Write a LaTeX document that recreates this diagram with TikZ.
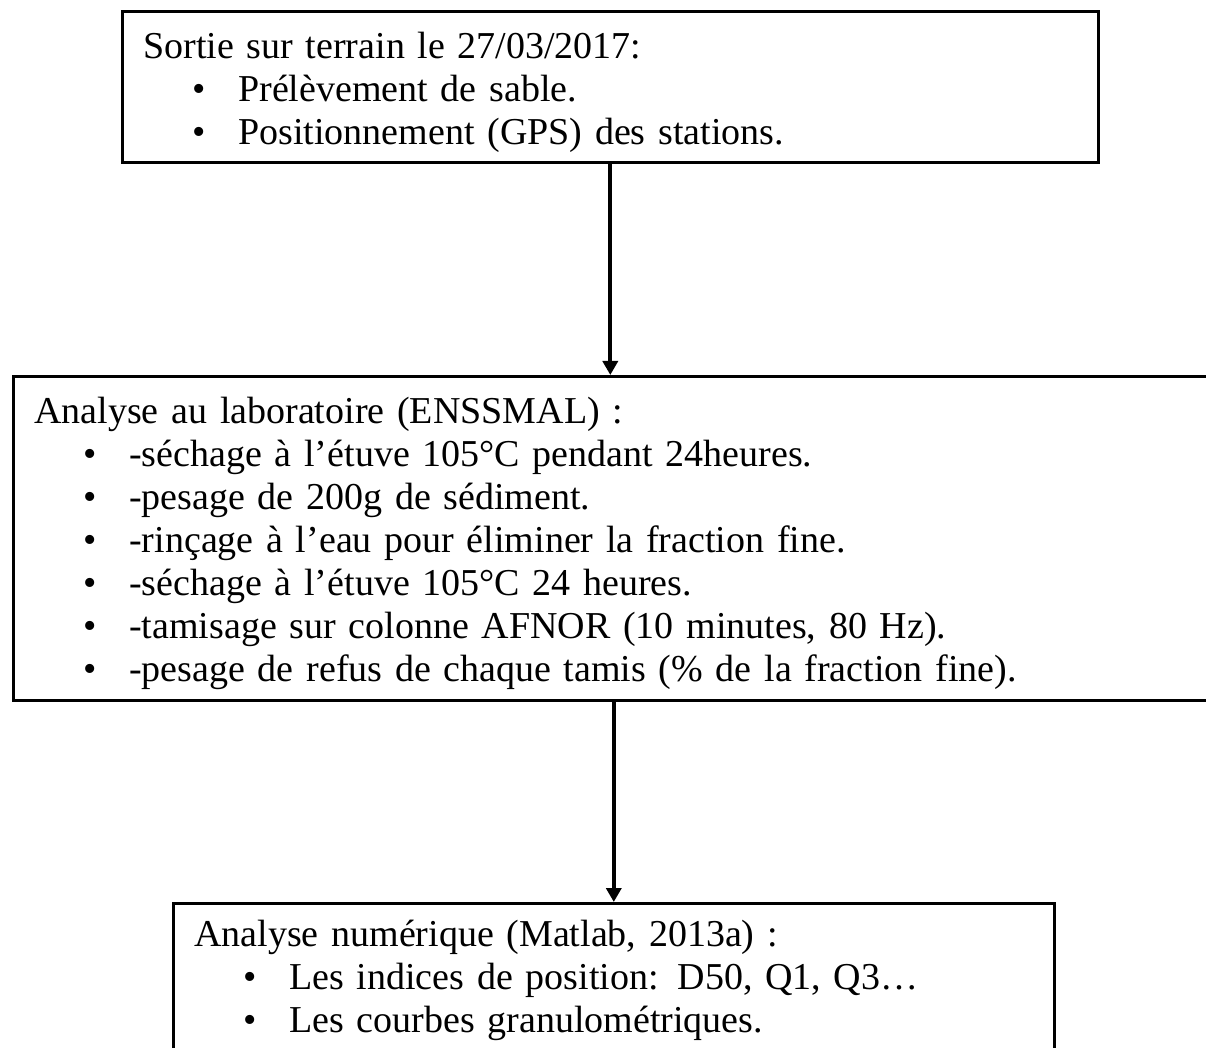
\documentclass[tikz,border=0pt]{standalone}
\usepackage{fontspec}
\setmainfont{Liberation Serif}
\usetikzlibrary{arrows.meta}
\usetikzlibrary{positioning}
\tikzset{cadre/.style = {draw, line width=1.3pt, inner xsep=10.5pt, inner ysep=0pt,
                         align=left, anchor=north west,
                         font=\fontsize{19pt}{21.5pt}\selectfont}}
\tikzset{fleche/.style = {line width=2pt, -{Triangle[length=7pt,width=7.5pt]}}}
\newcommand{\puce}{\hspace*{24.5pt}\makebox[23pt][l]{\textbullet}}

\begin{document}
\begin{tikzpicture}[x=0.5pt, y=-0.5pt]
		\clip (0,0) rectangle (1206,1048);
		
		\node[cadre, text width=467pt, text height=23.5pt, text depth=52pt] (terrain) at (121,10)
		{Sortie sur terrain le 27/03/2017:\\
		\puce Prélèvement de sable.\\
		\puce Positionnement (GPS) des stations.};
		
		\node[cadre, text width=593pt, text height=23.5pt, text depth=138.5pt] (labo) at (12,375)
		{Analyse au laboratoire (ENSSMAL) :\\
		\puce -séchage à l’étuve 105°C pendant 24heures.\\
		\puce -pesage de 200g de sédiment.\\
		\puce -rinçage à l’eau pour éliminer la fraction fine.\\
		\puce -séchage à l’étuve 105°C 24 heures.\\
		\puce -tamisage sur colonne AFNOR (10 minutes, 80 Hz).\\
		\puce -pesage de refus de chaque tamis (\% de la fraction fine).};
		
		\node[cadre, text width=419.5pt, text height=21.5pt, text depth=75pt] (numerique) at (172,902)
		{Analyse numérique (Matlab, 2013a) :\\
		\puce Les indices de position: D50, Q1, Q3…\\
		\puce Les courbes granulométriques.};
		
		\draw[fleche] (terrain.south) -- (terrain.south |- labo.north);
		\draw[fleche] (labo.south -| numerique.north) -- (numerique.north);
\end{tikzpicture}
\end{document}
